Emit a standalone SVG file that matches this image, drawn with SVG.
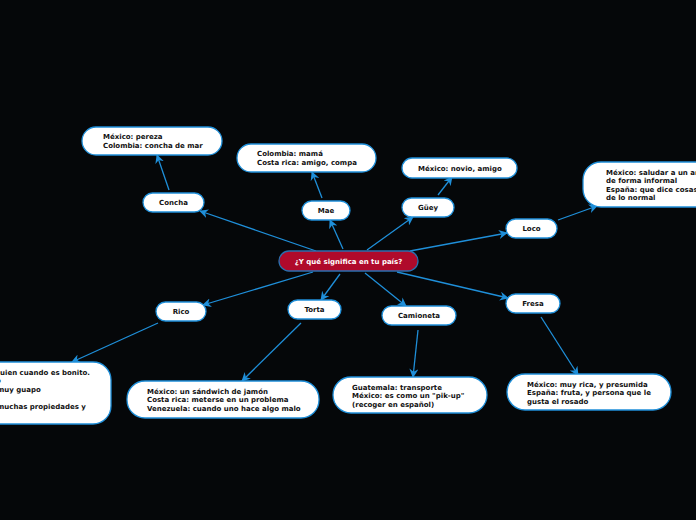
<svg xmlns="http://www.w3.org/2000/svg" width="696" height="520" viewBox="0 0 696 520">
<defs>
<marker id="ah" viewBox="0 0 10 10" refX="9" refY="5" markerWidth="9" markerHeight="9" markerUnits="userSpaceOnUse" orient="auto">
<path d="M0,0 L10,5 L0,10 L3,5 Z" fill="#1f8fd9"/>
</marker>
<style>
text{font-family:"DejaVu Sans",Verdana,sans-serif;font-weight:bold;font-size:7px;fill:#111}
.n rect{fill:#fff;stroke:#1f8fd9;stroke-width:1.3}
.c{text-anchor:middle}
#center rect{fill:#b00a2b;stroke:#2a6fae;stroke-width:1.3}
#center text{fill:#fff}
#connectors line{stroke:#1f8fd9;stroke-width:1.3;marker-end:url(#ah)}
</style>
</defs>
<rect width="696" height="520" fill="#050709"/>
<g id="connectors">
<line x1="316" y1="251" x2="200" y2="211"/>
<line x1="343" y1="249" x2="330" y2="220"/>
<line x1="367" y1="250" x2="413" y2="217"/>
<line x1="410" y1="251" x2="507" y2="233"/>
<line x1="313" y1="272" x2="203" y2="305"/>
<line x1="340" y1="274" x2="321" y2="300"/>
<line x1="365" y1="273" x2="406" y2="306"/>
<line x1="397" y1="272" x2="508" y2="298"/>
<line x1="169" y1="190" x2="157" y2="155"/>
<line x1="322" y1="198" x2="312" y2="172"/>
<line x1="438" y1="195" x2="452" y2="177"/>
<line x1="558" y1="220" x2="597" y2="206"/>
<line x1="158" y1="323" x2="72" y2="362"/>
<line x1="301" y1="323" x2="242" y2="381"/>
<line x1="418" y1="330" x2="413" y2="377"/>
<line x1="541" y1="317" x2="578" y2="375"/>
</g>
<g id="center"><rect x="279" y="251" width="139" height="20" rx="10"/><text x="348.5" y="263.5" class="c">¿Y qué significa en tu país?</text></g>
<g id="concha" class="n"><rect x="143" y="193" width="61" height="19" rx="9.5"/><text x="173.5" y="205" class="c">Concha</text></g>
<g id="mae" class="n"><rect x="302" y="201" width="48" height="19" rx="9.5"/><text x="326" y="213" class="c">Mae</text></g>
<g id="guey" class="n"><rect x="402" y="198" width="52" height="19" rx="9.5"/><text x="428" y="210" class="c">Güey</text></g>
<g id="loco" class="n"><rect x="506" y="219" width="51" height="19" rx="9.5"/><text x="531.5" y="231" class="c">Loco</text></g>
<g id="rico" class="n"><rect x="156" y="302" width="50" height="19" rx="9.5"/><text x="181" y="314" class="c">Rico</text></g>
<g id="torta" class="n"><rect x="288" y="300" width="53" height="19" rx="9.5"/><text x="314.5" y="312" class="c">Torta</text></g>
<g id="camioneta" class="n"><rect x="382" y="306" width="74" height="19" rx="9.5"/><text x="419" y="318" class="c">Camioneta</text></g>
<g id="fresa" class="n"><rect x="506" y="294" width="54" height="19" rx="9.5"/><text x="533" y="306" class="c">Fresa</text></g>
<g id="concha-d" class="n"><rect x="82" y="127" width="140" height="28" rx="14"/><text x="103" y="139">México: pereza</text><text x="103" y="148">Colombia: concha de mar</text></g>
<g id="mae-d" class="n"><rect x="237" y="144" width="139" height="28" rx="14"/><text x="257" y="156">Colombia: mamá</text><text x="257" y="165">Costa rica: amigo, compa</text></g>
<g id="guey-d" class="n"><rect x="402" y="158" width="115" height="20" rx="10"/><text x="418" y="170.5">México: novio, amigo</text></g>
<g id="loco-d" class="n"><rect x="583" y="162" width="140" height="45" rx="18"/><text x="606" y="174.5">México: saludar a un amigo</text><text x="606" y="183">de forma informal</text><text x="606" y="191.5">España: que dice cosas fuera</text><text x="606" y="200">de lo normal</text></g>
<g id="rico-d" class="n"><rect x="-40" y="362" width="151" height="62" rx="18"/><text x="0" y="374.5">uien cuando es bonito.</text><text x="-4" y="383">o</text><text x="-3" y="391.5">muy guapo</text><text x="-3" y="408.5">muchas propiedades y</text></g>
<g id="torta-d" class="n"><rect x="127" y="381" width="192" height="37" rx="18"/><text x="147" y="393.5">México: un sándwich de jamón</text><text x="147" y="402">Costa rica: meterse en un problema</text><text x="147" y="410.5">Venezuela: cuando uno hace algo malo</text></g>
<g id="camioneta-d" class="n"><rect x="333" y="377" width="154" height="36" rx="18"/><text x="352" y="389.5">Guatemala: transporte</text><text x="352" y="398">México: es como un "pik-up"</text><text x="352" y="406.5">(recoger en español)</text></g>
<g id="fresa-d" class="n"><rect x="507" y="374" width="164" height="36" rx="18"/><text x="527" y="386.5">México: muy rica, y presumida</text><text x="527" y="395">España: fruta, y persona que le</text><text x="527" y="403.5">gusta el rosado</text></g>
</svg>
